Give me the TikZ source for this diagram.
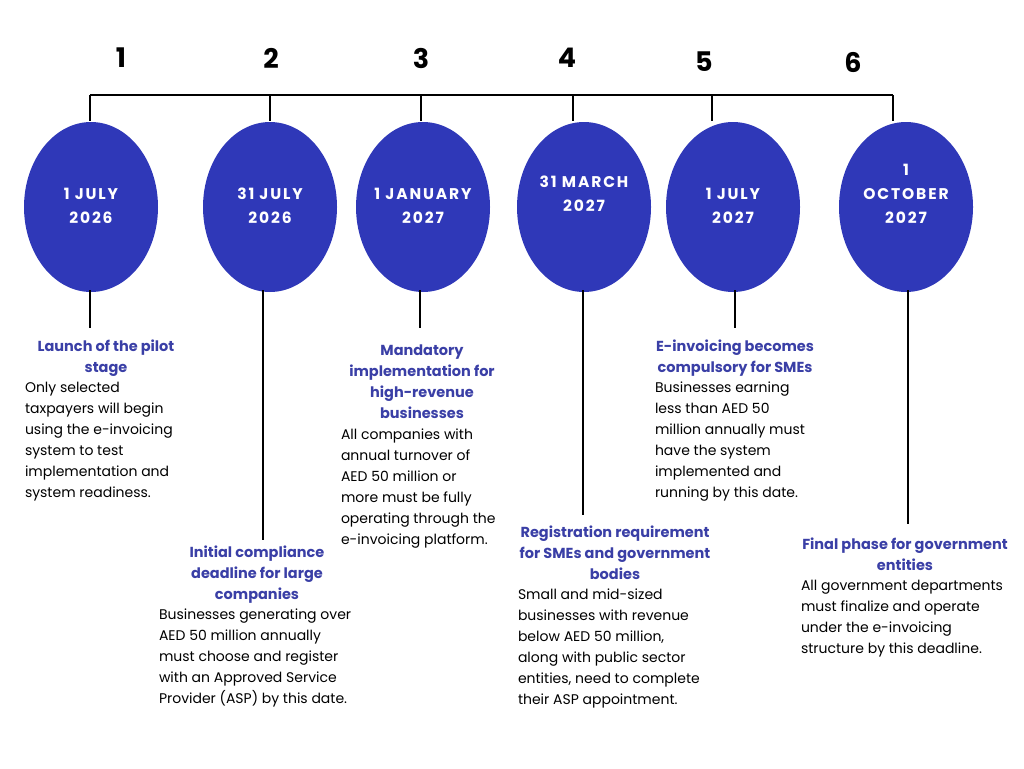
\documentclass[tikz,border=0pt]{standalone}
\usepackage{fontspec}
\setmainfont{Poppins}
\usetikzlibrary{shapes.geometric,positioning}
\definecolor{ballblue}{HTML}{2F38B8}
\definecolor{headblue}{HTML}{3A3FA6}
\begin{document}
\begin{tikzpicture}[x=1pt,y=-1pt, line width=2pt,
	dateball/.style={ellipse, fill=ballblue, minimum width=134pt, minimum height=170pt, inner sep=0pt},
	datetext/.style={text=white, align=center, inner sep=0pt, font=\fontsize{15.5}{24}\selectfont\bfseries\addfontfeatures{LetterSpace=12}},
	num/.style={font=\fontsize{27}{30}\selectfont\bfseries, inner sep=0pt},
	headline/.style={text=headblue, align=center, anchor=north, inner sep=0pt, font=\fontsize{14.5}{21}\selectfont\bfseries},
	bodytext/.style={align=left, anchor=north west, inner sep=0pt, font=\fontsize{14}{21}\selectfont}]
\useasboundingbox (0,0) rectangle (1024,768);
% step numbers
\node[num] (n1) at (121,58) {1};
\node[num] (n2) at (271,58) {2};
\node[num] (n3) at (421,58) {3};
\node[num] (n4) at (567,58) {4};
\node[num] (n5) at (704,62) {5};
\node[num] (n6) at (853,62) {6};
% the date balls
\node[dateball] (e1) at (91,207) {};
\node[dateball] (e2) at (270,207) {};
\node[dateball] (e3) at (423,207) {};
\node[dateball] (e4) at (584,207) {};
\node[dateball] (e5) at (733,207) {};
\node[dateball] (e6) at (906,207) {};
\node[datetext] (d1) at (91,206) {1 JULY\\2026};
\node[datetext] (d2) at (270,206) {31 JULY\\2026};
\node[datetext] (d3) at (423,206) {1 JANUARY\\2027};
\node[datetext] (d4) at (584,194) {31 MARCH\\2027};
\node[datetext] (d5) at (733,206) {1 JULY\\2027};
\node[datetext] (d6) at (906,194) {1\\OCTOBER\\2027};
% top bar
\coordinate (t1) at (90,95);
\coordinate (t2) at (270,95);
\coordinate (t3) at (421,95);
\coordinate (t4) at (573,95);
\coordinate (t5) at (712,95);
\coordinate (t6) at (893,95);
\draw (t1) -- (t6);
\foreach \i in {1,...,6}
	\draw (t\i) -- (t\i |- e\i.north);
% stems down to the texts
\coordinate (s1) at (90,328);
\coordinate (s2) at (263,540);
\coordinate (s3) at (420,328);
\coordinate (s4) at (583,515);
\coordinate (s5) at (735,328);
\coordinate (s6) at (908,524);
\foreach \i in {1,...,6}
	\draw (s\i |- e\i.south) ++(0,-3) -- (s\i);
% texts
\node[headline] (h1) at (106,339) {Launch of the pilot\\stage};
\node[bodytext] (b1) at (24,381) {Only selected\\taxpayers will begin\\using the e-invoicing\\system to test\\implementation and\\system readiness.};
\node[headline] (h2) at (257,545) {Initial compliance\\deadline for large\\companies};
\node[bodytext] (b2) at (158,608) {Businesses generating over\\AED 50 million annually\\must choose and register\\with an Approved Service\\Provider (ASP) by this date.};
\node[headline] (h3) at (422,344) {Mandatory\\implementation for\\high-revenue\\businesses};
\node[bodytext] (b3) at (340,428) {All companies with\\annual turnover of\\AED 50 million or\\more must be fully\\operating through the\\e-invoicing platform.};
\node[headline] (h4) at (615,525) {Registration requirement\\for SMEs and government\\bodies};
\node[bodytext] (b4) at (517,588) {Small and mid-sized\\businesses with revenue\\below AED 50 million,\\along with public sector\\entities, need to complete\\their ASP appointment.};
\node[headline] (h5) at (735,339) {E-invoicing becomes\\compulsory for SMEs};
\node[bodytext] (b5) at (654,381) {Businesses earning\\less than AED 50\\million annually must\\have the system\\implemented and\\running by this date.};
\node[headline] (h6) at (905,537) {Final phase for government\\entities};
\node[bodytext] (b6) at (800,579) {All government departments\\must finalize and operate\\under the e-invoicing\\structure by this deadline.};
\end{tikzpicture}
\end{document}
